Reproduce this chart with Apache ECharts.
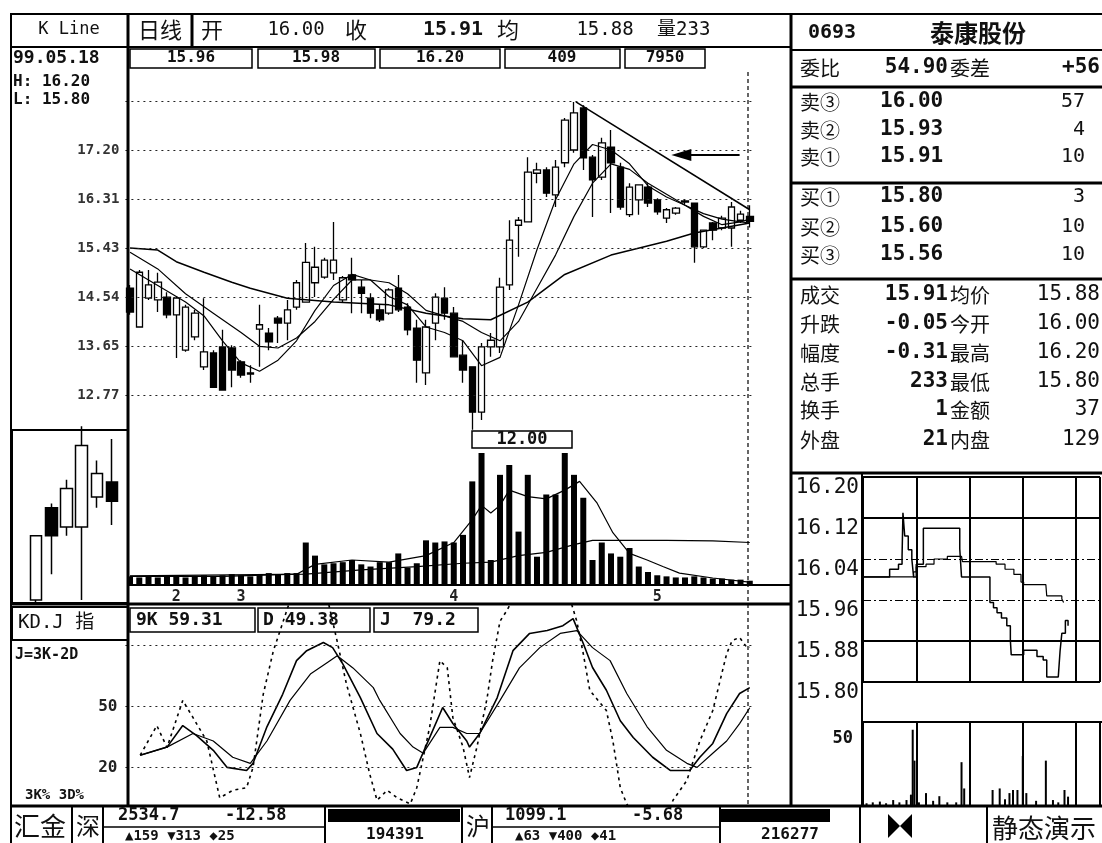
<!DOCTYPE html>
<html>
<head>
<meta charset="utf-8">
<script src="https://cdn.jsdelivr.net/npm/echarts@6/dist/echarts.min.js"></script>
<style>
  html, body { margin: 0; padding: 0; background: #fff; }
  #main { width: 1102px; height: 843px; }
</style>
</head>
<body>
<div id="main"></div>
<script>
// ---- daily candles: [open, close, low, high]
const candles = [
  [14.70,14.27,14.22,14.76],[14.00,14.99,14.00,15.03],[14.52,14.76,14.49,15.03],[14.49,14.81,14.27,14.98],
  [14.54,14.22,14.16,14.63],[14.22,14.52,13.44,14.56],[13.58,14.36,13.55,14.40],[13.82,14.25,13.76,14.31],
  [13.28,13.55,13.22,14.52],[13.53,12.91,12.90,13.58],[13.64,12.86,12.86,13.95],[13.62,13.22,12.91,13.67],
  [13.37,13.13,13.08,13.40],[13.17,13.15,12.99,13.31],[13.96,14.04,13.28,14.40],[13.89,13.73,13.58,13.98],
  [14.16,14.07,13.71,14.20],[14.07,14.31,13.76,14.49],[14.36,14.80,14.31,14.85],[14.45,15.17,14.45,15.52],
  [14.80,15.08,14.54,15.45],[14.90,15.21,14.87,15.25],[14.98,15.21,14.85,15.90],[14.49,14.89,14.45,14.92],
  [14.94,14.85,14.25,15.25],[14.72,14.61,14.25,14.85],[14.52,14.25,14.16,14.61],[14.31,14.13,14.09,14.40],
  [14.25,14.67,14.22,14.70],[14.70,14.31,14.27,14.94],[14.36,13.95,13.85,14.43],[13.98,13.40,12.99,14.13],
  [13.17,14.00,12.95,14.13],[14.07,14.54,13.76,14.61],[14.52,14.25,14.13,14.72],[14.25,13.46,13.46,14.36],
  [13.49,13.22,12.99,13.76],[13.28,12.46,12.14,13.28],[12.46,13.64,12.32,13.71],[13.64,13.76,13.46,13.89],
  [13.64,14.72,13.53,14.89],[14.76,15.57,14.67,15.93],[15.84,15.93,15.27,15.99],[15.90,16.80,15.90,17.07],
  [16.78,16.84,16.60,16.97],[16.84,16.42,16.35,16.89],[16.39,16.89,16.17,17.02],[16.97,17.74,16.89,17.78],
  [17.20,17.87,17.15,18.07],[17.96,17.06,16.84,18.01],[17.07,16.66,15.99,17.11],[16.71,17.33,16.66,17.42],
  [17.25,16.97,16.06,17.56],[16.89,16.17,16.12,16.97],[16.03,16.53,15.99,16.60],[16.30,16.57,16.03,16.57],
  [16.53,16.24,16.17,16.60],[16.30,16.08,16.03,16.33],[15.97,16.12,15.88,16.15],[16.06,16.15,16.03,16.17],
  [16.26,16.28,16.21,16.30],[16.24,15.45,15.16,16.24],[15.45,15.75,15.43,15.75],[15.88,15.75,15.57,15.90],
  [15.79,15.97,15.75,16.01],[15.79,16.17,15.45,16.26],[15.93,16.04,15.88,16.10],[16.00,15.91,15.80,16.20]
];
const volumes = [
  0.7,0.6,0.7,0.6,0.8,0.7,0.6,0.7,0.8,0.7,0.8,0.9,0.8,0.7,0.9,1.0,0.9,1.0,
  1.0,3.8,2.6,1.8,1.9,2.0,2.2,1.8,1.6,2.0,2.0,2.8,1.5,1.9,4.0,3.8,3.9,3.8,
  4.5,9.4,12.0,2.2,10.0,10.9,4.8,10.0,2.5,8.2,8.2,12.0,10.0,7.9,2.2,3.8,
  2.8,2.5,3.3,1.6,1.1,0.8,0.7,0.6,0.6,0.7,0.6,0.5,0.5,0.4,0.4,0.3
];
// moving averages: [day index, price]
const ma5 = [[0,15.05],[2,14.85],[4,14.65],[6,14.45],[8,14.2],[10,13.75],[12,13.35],[14,13.2],[16,13.4],
  [18,13.75],[20,14.3],[22,14.75],[24,14.95],[26,14.85],[28,14.55],[30,14.4],[32,14.0],[34,13.9],[36,13.75],
  [38,13.3],[40,13.45],[42,14.4],[44,15.4],[46,16.3],[48,16.95],[50,17.3],[52,17.2],[54,16.95],[56,16.55],
  [58,16.35],[60,16.2],[62,16.0],[64,15.85],[66,15.9],[67,15.95]];
const ma10 = [[0,15.35],[3,15.05],[6,14.6],[9,14.25],[12,13.9],[14,13.65],[16,13.62],[18,13.8],[20,14.1],
  [22,14.5],[24,14.85],[26,14.85],[28,14.8],[30,14.6],[32,14.3],[34,14.2],[36,14.1],[38,13.9],[40,13.75],
  [42,14.1],[44,14.7],[46,15.3],[48,16.0],[50,16.6],[52,16.95],[54,16.85],[56,16.6],[58,16.4],[60,16.2],
  [62,16.05],[64,15.95],[66,15.9],[67,15.88]];
const ma30 = [[0,15.43],[3,15.39],[5,15.18],[8,14.99],[11,14.81],[13,14.7],[17,14.52],[22,14.45],[28,14.4],
  [32,14.25],[36,14.15],[39,14.13],[43,14.45],[47,14.95],[52,15.3],[58,15.55],[61,15.7],[67,15.88]];
const trendLine = [[48.2,18.07],[67,16.12]];
const volMa5 = [[0,0.7],[10,0.7],[18,0.9],[20,1.8],[24,2.2],[28,2.0],[32,2.6],[35,3.8],[37,5.9],[38,7.2],
  [39,6.5],[40,7.2],[41,8.6],[43,8.0],[45,7.8],[47,8.6],[48.6,9.4],[50.5,7.4],[52.2,4.7],[54,2.8],[55.9,2.2],
  [57.6,1.6],[59.4,1.0],[63,0.55],[66.7,0.2]];
const volMa10 = [[0,0.75],[19,0.9],[25,1.3],[31,1.6],[36,1.9],[39,2.0],[42,2.6],[45,2.9],[48,3.6],[50,4.0],
  [58,4.0],[63,3.95],[67,3.8]];
const monthStart = [5, 12, 35, 57];
const monthNames = ['2', '3', '4', '5'];
const priceTicks = [12.77, 13.65, 14.54, 15.43, 16.31, 17.20, 18.09];
const priceTickLabels = ['12.77', '13.65', '14.54', '15.43', '16.31', '17.20', ''];

// KDJ: [day index, value]
const kLine = [[1.1,26],[4.0,30],[5.7,40.6],[7.2,35.7],[9.0,28.4],[10.5,20],[12.6,18.5],[13.3,22],[14.8,40],
  [16.5,56],[18.0,72.6],[19.1,77.5],[20.9,81.5],[21.9,79],[23.0,71],[24.9,54.4],[26.7,36.7],[28.4,29],
  [29.9,18.5],[31.0,20],[32.4,34.8],[33.8,49.5],[34.9,41.6],[36.4,33],[36.7,30],[37.8,36.7],[39.7,54.4],
  [41.4,77.5],[43.2,86],[45.1,87.4],[46.8,89.8],[47.9,93.3],[49.0,81],[50.0,69.2],[51.5,58],[53.0,43],
  [54.4,34.7],[56.5,25],[58.4,18.5],[60.5,18.5],[61.6,25],[63.0,31.8],[64.5,46.5],[65.9,56.4],[67,59.31]];
const dLine = [[1.1,26],[4.0,30],[6.8,36.7],[9.0,33],[11.1,25],[13.0,22],[14.8,33],[17.3,53],[19.5,66],
  [21.3,71.6],[22.4,75],[24.1,69],[26.3,59.3],[27.0,53],[29.2,36.7],[30.6,30],[31.7,27],[33.5,39.7],
  [34.9,39.7],[36.4,36.7],[37.8,36.7],[40.0,53],[42.1,69],[44.3,79],[46.5,86],[48.3,87.4],[50.0,79],
  [51.9,72.6],[53.7,56.4],[55.9,40],[58.0,28.4],[60.2,22],[61.3,20],[63.0,27],[64.5,33],[65.9,41.6],[67,49.38]];
const jLine = [[1.1,26],[2.9,40.6],[4.0,29.8],[5.7,53],[6.8,44.6],[8.3,33],[9.7,5],[11.1,8.7],[12.6,10],
  [13.3,20],[14.4,56],[15.5,77.5],[16.2,87],[17.5,105],[19.5,115],[21.5,100],[22.4,82],[23.4,61],[24.9,36.7],
  [25.9,17],[26.7,3.8],[27.8,8.7],[28.9,5],[30.3,2],[31.0,10],[32.4,40],[33.5,72.6],[34.3,69],[34.9,44.6],
  [36.0,30],[36.7,15],[37.5,30],[38.6,54],[39.2,72.6],[40.0,92],[40.7,97],[42.5,112],[45,116],[47.5,104],
  [48.3,92],[49.0,76],[49.7,58],[51.5,48],[52.2,33],[53.0,10],[53.7,2],[55.5,-12],[57.5,-12],[58.7,3.8],
  [60.2,13.6],[61.6,33],[63.0,48],[64.5,76],[65.1,82.5],[65.9,84],[66.7,79],[67,79.2]];

// intraday: [minute, value]
const tickPrice = [[0,16.005],[30,16.02],[40,16.03],[44,16.045],[45,16.13],[47,16.085],[51,16.058],[55,16.04],
  [57,16.005],[60,16.03],[68,16.10],[109,16.06],[111,16.005],[143,15.955],[147,15.945],[151,15.935],
  [156,15.925],[162,15.91],[166,15.882],[167,15.853],[181,15.862],[196,15.85],[203,15.843],[207,15.81],
  [220,15.81],[222,15.86],[224,15.895],[228,15.92],[231,15.91]];
const avgPrice = [[0,16.005],[57,16.015],[60,16.025],[71,16.03],[80,16.04],[95,16.045],[111,16.045],
  [112,16.035],[140,16.035],[150,16.03],[160,16.02],[170,16.01],[178,15.995],[181,15.99],[206,15.988],
  [207,15.968],[224,15.962],[226,15.955]];
const tickVol = [[4,2.4],[11,3],[19,3.5],[26,2.4],[34,4.5],[41,3],[49,4.5],[54,8],[56,50],[58,30],[63,3],
  [71,9],[79,4],[86,7],[95,3],[105,3],[111,29],[114,12],[146,11],[154,12],[160,5],[165,9],[169,11],[174,11],
  [180,33],[184,9],[195,4],[206,30],[214,4.5],[220,3],[227,11],[231,6.7]];
const intraTicks = [15.80, 15.88, 15.96, 16.04, 16.12, 16.20];

const MONO = '"DejaVu Sans Mono","Noto Sans CJK SC",monospace';
const CJK = '"Noto Sans CJK SC",sans-serif';

function hline(x1, x2, y, w, dash) {
  return {type: 'line', silent: true, z: 50, shape: {x1: x1, y1: y, x2: x2, y2: y},
    style: {stroke: '#000', lineWidth: w || 1, lineDash: dash || null}};
}
function vline(x, y1, y2, w, dash) {
  return {type: 'line', silent: true, z: 50, shape: {x1: x, y1: y1, x2: x, y2: y2},
    style: {stroke: '#000', lineWidth: w || 1, lineDash: dash || null}};
}
function box(x, y, w, h, lw) {
  return {type: 'rect', silent: true, z: 50, shape: {x: x, y: y, width: w, height: h},
    style: {fill: null, stroke: '#000', lineWidth: lw || 1.5}};
}
function fillRect(x, y, w, h) {
  return {type: 'rect', silent: true, z: 50, shape: {x: x, y: y, width: w, height: h}, style: {fill: '#000'}};
}
function txt(x, y, s, size, align, bold, fam, color) {
  return {type: 'text', silent: true, z: 60, x: x, y: y,
    style: {text: s, font: (bold ? 'bold ' : '') + size + 'px ' + (fam || MONO),
      fill: color || '#111', align: align || 'left', verticalAlign: 'middle'}};
}

const g = [];
// frame
g.push(hline(10, 1102, 14, 2), hline(10, 790, 47, 2), vline(11, 14, 843, 2), vline(128, 14, 805, 3),
  vline(192, 14, 47, 3), vline(791, 14, 806, 3));
g.push(box(130, 49, 122, 19), box(258, 49, 117, 19), box(380, 49, 120, 19), box(505, 49, 115, 19), box(625, 49, 80, 19));
g.push(hline(10, 128, 430, 2), box(12, 430, 116, 173, 2), hline(128, 790, 585, 2), hline(10, 790, 604, 3),
  box(12, 607, 116, 33, 2), hline(10, 1102, 806, 3), vline(748, 72, 805, 1.2, [4, 3]));
g.push(box(472, 431, 100, 17, 1.5), txt(522, 440, '12.00', 17, 'center', true));
// header text
g.push(txt(69, 30, 'K Line', 17, 'center', false), txt(160, 30, '日线', 22, 'center', false, CJK),
  txt(212, 30, '开', 22, 'center', false, CJK), txt(296, 30, '16.00', 19, 'center', false),
  txt(356, 30, '收', 22, 'center', false, CJK), txt(453, 30, '15.91', 20, 'center', true),
  txt(508, 30, '均', 22, 'center', false, CJK), txt(605, 30, '15.88', 19, 'center', false),
  txt(657, 30, '量233', 19, 'left', false));
g.push(txt(13, 58, '99.05.18', 18, 'left', true), txt(191, 58, '15.96', 16, 'center', true),
  txt(316, 58, '15.98', 16, 'center', true), txt(440, 58, '16.20', 16, 'center', true),
  txt(562, 58, '409', 16, 'center', true), txt(665, 58, '7950', 16, 'center', true));
g.push(txt(13, 82, 'H: 16.20', 16, 'left', true), txt(13, 100, 'L: 15.80', 16, 'left', true));
// KDJ labels
g.push(txt(18, 623, 'KD.J 指', 19, 'left', false), txt(15, 655, 'J=3K-2D', 15, 'left', true),
  txt(25, 795, '3K% 3D%', 14, 'left', true));
g.push(box(130, 608, 125, 24), box(258, 608, 112, 24), box(374, 608, 104, 24),
  txt(136, 620, '9K 59.31', 18, 'left', true), txt(263, 620, 'D 49.38', 18, 'left', true),
  txt(380, 620, 'J  79.2', 18, 'left', true));
// right panel
g.push(hline(791, 1102, 50, 2), hline(791, 1102, 87, 3), hline(791, 1102, 183, 3), hline(791, 1102, 279, 3),
  hline(791, 1102, 473, 3), vline(862, 473, 807, 2), hline(862, 1102, 722, 2));
g.push(txt(808, 33, '0693', 20, 'left', true), txt(930, 33, '泰康股份', 24, 'left', true, CJK));
g.push(txt(800, 68, '委比', 20, 'left', false, CJK), txt(948, 68, '54.90', 21, 'right', true),
  txt(950, 68, '委差', 20, 'left', false, CJK), txt(1100, 68, '+56', 21, 'right', true));
const bookLabels = ['卖③', '卖②', '卖①', '买①', '买②', '买③'];
const bookPrices = ['16.00', '15.93', '15.91', '15.80', '15.60', '15.56'];
const bookVols = ['57', '4', '10', '3', '10', '10'];
const bookY = [102, 130, 157, 197, 227, 255];
bookLabels.forEach(function (s, i) {
  g.push(txt(800, bookY[i], s, 20, 'left', false, CJK), txt(880, bookY[i], bookPrices[i], 21, 'left', true),
    txt(1085, bookY[i], bookVols[i], 20, 'right', false));
});
const statL = ['成交', '升跌', '幅度', '总手', '换手', '外盘'];
const statV = ['15.91', '-0.05', '-0.31', '233', '1', '21'];
const statL2 = ['均价', '今开', '最高', '最低', '金额', '内盘'];
const statV2 = ['15.88', '16.00', '16.20', '15.80', '37', '129'];
const statY = [295, 324, 353, 382, 410, 440];
statL.forEach(function (s, i) {
  g.push(txt(800, statY[i], s, 20, 'left', false, CJK), txt(948, statY[i], statV[i], 21, 'right', true),
    txt(950, statY[i], statL2[i], 20, 'left', false, CJK), txt(1100, statY[i], statV2[i], 21, 'right', false));
});
// bottom bar
g.push(vline(72, 806, 843, 2), vline(103, 806, 843, 2), vline(325, 806, 843, 2), vline(462, 806, 843, 2),
  vline(492, 806, 843, 2), vline(720, 806, 843, 2), vline(860, 806, 843, 2), vline(987, 806, 843, 2),
  hline(103, 325, 827, 1.5), hline(492, 720, 827, 1.5), fillRect(328, 809, 132, 13), fillRect(720, 809, 110, 13));
g.push(txt(40, 826, '汇金', 26, 'center', false, CJK), txt(88, 826, '深', 24, 'center', false, CJK),
  txt(118, 816, '2534.7', 17, 'left', true), txt(225, 816, '-12.58', 17, 'left', true),
  txt(125, 836, '▲159 ▼313 ◆25', 14, 'left', true), txt(395, 835, '194391', 16, 'center', true),
  txt(478, 826, '沪', 24, 'center', false, CJK), txt(505, 816, '1099.1', 17, 'left', true),
  txt(632, 816, '-5.68', 17, 'left', true), txt(515, 836, '▲63 ▼400 ◆41', 14, 'left', true),
  txt(790, 835, '216277', 16, 'center', true), txt(1044, 828, '静态演示', 26, 'center', false, CJK));
g.push({type: 'polygon', silent: true, z: 50, shape: {points: [[888, 814], [900, 826], [888, 838]]}, style: {fill: '#000'}},
  {type: 'polygon', silent: true, z: 50, shape: {points: [[912, 814], [900, 826], [912, 838]]}, style: {fill: '#000'}});

const cats = candles.map(function (_, i) { return String(i); });
const hidden = {show: false};
const dotted = {color: '#222', width: 1, type: [2, 4]};

const option = {
  animation: false,
  backgroundColor: '#fff',
  grid: [
    {left: 125.4, top: 70, width: 629, height: 360},
    {left: 125.4, top: 453, width: 629, height: 131},
    {left: 125.4, top: 605, width: 629, height: 203},
    {left: 28.5, top: 432, width: 91, height: 171},
    {left: 863, top: 477, width: 237, height: 205},
    {left: 863, top: 722, width: 237, height: 85}
  ],
  xAxis: [
    {type: 'category', gridIndex: 0, data: cats, show: false},
    {type: 'value', gridIndex: 0, min: -0.5, max: 67.5, show: false},
    {type: 'category', gridIndex: 1, data: cats, axisLine: hidden, axisTick: hidden, splitLine: hidden,
      axisLabel: {interval: 0, margin: 6, color: '#222', fontFamily: MONO, fontWeight: 'bold', fontSize: 15,
        formatter: function (v, i) { const k = monthStart.indexOf(i); return k >= 0 ? monthNames[k] : ''; }}},
    {type: 'value', gridIndex: 1, min: -0.5, max: 67.5, show: false},
    {type: 'value', gridIndex: 2, min: -0.5, max: 67.5, show: false},
    {type: 'category', gridIndex: 3, data: cats.slice(62), show: false},
    {type: 'value', gridIndex: 4, min: 0, max: 267, interval: 60, axisLine: hidden, axisTick: hidden,
      axisLabel: hidden, splitLine: {lineStyle: {color: '#000', width: 2}}},
    {type: 'value', gridIndex: 5, min: 0, max: 267, interval: 60, axisLine: hidden, axisTick: hidden,
      axisLabel: hidden, splitLine: {lineStyle: {color: '#000', width: 2}}}
  ],
  yAxis: [
    {type: 'value', gridIndex: 0, min: 12.137, max: 18.647, show: false},
    {type: 'value', gridIndex: 1, min: 0, max: 12, show: false},
    {type: 'value', gridIndex: 2, min: 0, max: 100, show: false},
    {type: 'value', gridIndex: 3, min: 15.436, max: 16.233, show: false},
    {type: 'value', gridIndex: 4, min: 15.80, max: 16.20, axisLine: hidden, axisTick: hidden, splitLine: hidden,
      axisLabel: {customValues: intraTicks, verticalAlign: 'top', margin: 4, color: '#111', fontFamily: MONO, fontSize: 21,
        formatter: function (v) { return v.toFixed(2); }}},
    {type: 'value', gridIndex: 5, min: 0, max: 55, axisLine: hidden, axisTick: hidden, splitLine: hidden,
      axisLabel: {customValues: [50], verticalAlign: 'top', margin: 10, color: '#111', fontFamily: MONO,
        fontWeight: 'bold', fontSize: 17}}
  ],
  series: [
    {type: 'candlestick', xAxisIndex: 0, yAxisIndex: 0, data: candles, barWidth: 7,
      itemStyle: {color: '#fff', color0: '#000', borderColor: '#000', borderColor0: '#000', borderWidth: 1.3},
      markLine: {silent: true, symbol: 'none', lineStyle: dotted,
        label: {position: 'start', formatter: '{b}', distance: 6, color: '#333', fontFamily: MONO,
          fontWeight: 'bold', fontSize: 14},
        data: priceTicks.map(function (v, i) { return {yAxis: v, name: priceTickLabels[i]}; })}},
    {type: 'line', xAxisIndex: 1, yAxisIndex: 0, data: ma5, symbol: 'none', lineStyle: {color: '#000', width: 1.2}},
    {type: 'line', xAxisIndex: 1, yAxisIndex: 0, data: ma10, symbol: 'none', lineStyle: {color: '#000', width: 1.2}},
    {type: 'line', xAxisIndex: 1, yAxisIndex: 0, data: ma30, symbol: 'none', lineStyle: {color: '#000', width: 1.5}},
    {type: 'line', xAxisIndex: 1, yAxisIndex: 0, data: trendLine, symbol: 'none', lineStyle: {color: '#000', width: 1.5},
      markLine: {silent: true, symbol: ['none', 'triangle'], symbolSize: [12, 20],
        itemStyle: {color: '#000'}, lineStyle: {color: '#000', width: 2, type: 'solid'},
        label: hidden, data: [[{coord: [65.9, 17.11]}, {coord: [59.6, 17.11]}]]}},
    {type: 'bar', xAxisIndex: 2, yAxisIndex: 1, data: volumes, barWidth: 6, itemStyle: {color: '#000'}},
    {type: 'line', xAxisIndex: 3, yAxisIndex: 1, data: volMa5, symbol: 'none', lineStyle: {color: '#000', width: 1.2}},
    {type: 'line', xAxisIndex: 3, yAxisIndex: 1, data: volMa10, symbol: 'none', lineStyle: {color: '#000', width: 1.2}},
    {type: 'line', xAxisIndex: 4, yAxisIndex: 2, data: kLine, symbol: 'none', lineStyle: {color: '#000', width: 1.6},
      markLine: {silent: true, symbol: 'none', lineStyle: dotted,
        label: {position: 'start', formatter: '{b}', distance: 8, color: '#222', fontFamily: MONO,
          fontWeight: 'bold', fontSize: 16},
        data: [{yAxis: 80, name: ''}, {yAxis: 50, name: '50'}, {yAxis: 20, name: '20'}]}},
    {type: 'line', xAxisIndex: 4, yAxisIndex: 2, data: dLine, symbol: 'none', lineStyle: {color: '#000', width: 1.2}},
    {type: 'line', xAxisIndex: 4, yAxisIndex: 2, data: jLine, symbol: 'none', lineStyle: {color: '#000', width: 1.6, type: [3, 4]}},
    {type: 'candlestick', xAxisIndex: 5, yAxisIndex: 3, data: candles.slice(62), barWidth: 12,
      itemStyle: {color: '#fff', color0: '#000', borderColor: '#000', borderColor0: '#000', borderWidth: 1.5}},
    {type: 'line', xAxisIndex: 6, yAxisIndex: 4, data: tickPrice, step: 'end', symbol: 'none',
      lineStyle: {color: '#000', width: 1.5},
      markLine: {silent: true, symbol: 'none', label: hidden,
        data: intraTicks.map(function (v) {
          const mid = (v === 16.04 || v === 15.96);
          return {yAxis: v, lineStyle: {color: '#000', width: mid ? 1 : 2, type: mid ? [8, 3, 2, 3] : 'solid'}};
        })}},
    {type: 'line', xAxisIndex: 6, yAxisIndex: 4, data: avgPrice, step: 'end', symbol: 'none',
      lineStyle: {color: '#000', width: 1.2}},
    {type: 'bar', xAxisIndex: 7, yAxisIndex: 5, data: tickVol, barWidth: 2, itemStyle: {color: '#000'}}
  ],
  graphic: g
};

const chart = echarts.init(document.getElementById('main'), null, {renderer: 'canvas'});
chart.setOption(option);
</script>
</body>
</html>
